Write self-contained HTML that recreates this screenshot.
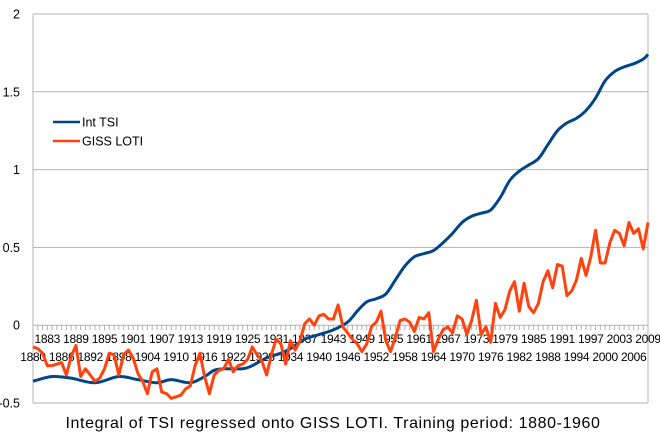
<!DOCTYPE html>
<html><head><meta charset="utf-8"><style>
html,body{margin:0;padding:0;background:#fff;}
svg{display:block;font-family:"Liberation Sans",sans-serif;}
</style></head><body>
<svg id="chart" width="660" height="442" viewBox="0 0 660 442" xmlns="http://www.w3.org/2000/svg">
<g id="grid"></g>
<g id="axes"></g>
<g id="series"></g>
<g>
<line x1="53" y1="122" x2="80" y2="122" stroke="#004586" stroke-width="2.5"/>
<text x="82" y="126.5" font-size="12.5" fill="#000">Int TSI</text>
<line x1="53" y1="141" x2="80" y2="141" stroke="#ff420e" stroke-width="2.5"/>
<text x="82" y="145.5" font-size="12.5" fill="#000">GISS LOTI</text>
</g>
<text x="333" y="428" text-anchor="middle" font-size="16" letter-spacing="0.6" fill="#000">Integral of TSI regressed onto GISS LOTI.  Training period: 1880-1960</text>
</svg>
<script>
const startYear = 1880;
const gissValues = [
-0.14,-0.15,-0.18,-0.26,-0.26,-0.25,-0.24,-0.32,-0.20,-0.13,
-0.33,-0.28,-0.32,-0.36,-0.34,-0.28,-0.18,-0.19,-0.32,-0.19,
-0.16,-0.21,-0.31,-0.36,-0.44,-0.30,-0.28,-0.43,-0.44,-0.47,
-0.46,-0.45,-0.41,-0.39,-0.26,-0.18,-0.33,-0.44,-0.32,-0.29,
-0.28,-0.22,-0.30,-0.26,-0.25,-0.22,-0.14,-0.19,-0.23,-0.32,
-0.19,-0.09,-0.12,-0.25,-0.10,-0.16,-0.10,0.01,0.04,0.00,
0.06,0.07,0.04,0.04,0.13,-0.01,-0.05,-0.09,-0.12,-0.17,
-0.12,-0.01,0.02,0.09,-0.10,-0.17,-0.08,0.03,0.04,0.02,
-0.04,0.05,0.04,0.08,-0.17,-0.09,-0.03,-0.01,-0.05,0.06,
0.04,-0.06,0.03,0.16,-0.06,-0.01,-0.11,0.14,0.05,0.10,
0.22,0.28,0.09,0.27,0.12,0.08,0.14,0.28,0.35,0.24,
0.39,0.38,0.19,0.22,0.29,0.43,0.32,0.44,0.61,0.40,
0.40,0.53,0.61,0.59,0.51,0.66,0.59,0.62,0.49,0.66];
const tsiYears = [1880,1884,1888,1893,1898,1902,1906,1909,1913,1916,1918,1920,1924,1926,1929,1932,1934,1937,1940,1943,1946,1948,1950,1952,1954,1956,1958,1960,1962,1964,1966,1968,1970,1972,1974,1976,1978,1980,1982,1984,1986,1988,1990,1992,1994,1996,1998,2000,2002,2004,2006,2008,2009];
const tsiValues = [-0.36,-0.33,-0.34,-0.37,-0.33,-0.35,-0.37,-0.35,-0.37,-0.33,-0.29,-0.28,-0.28,-0.26,-0.21,-0.18,-0.15,-0.09,-0.06,-0.03,0.02,0.09,0.15,0.17,0.20,0.29,0.38,0.44,0.46,0.48,0.53,0.59,0.66,0.70,0.72,0.74,0.82,0.93,0.99,1.03,1.07,1.16,1.25,1.30,1.33,1.38,1.46,1.57,1.63,1.66,1.68,1.71,1.74];
const yTicks = [-0.5,0,0.5,1,1.5,2];
const yTickLabels = ["-0.5","0","0.5","1","1.5","2"];

const NS="http://www.w3.org/2000/svg";
const x0=33,x1=648,yTop=14,yBot=403,yMin=-0.5,yMax=2;
const nYears=gissValues.length;
const xS=y=>x0+(y-startYear)*(x1-x0)/(nYears-1);
const yS=v=>yBot-(v-yMin)*(yBot-yTop)/(yMax-yMin);
function mk(tag,attrs,parent){const e=document.createElementNS(NS,tag);for(const k in attrs)e.setAttribute(k,attrs[k]);parent.appendChild(e);return e;}
const grid=document.getElementById('grid'),axes=document.getElementById('axes'),series=document.getElementById('series');
yTicks.forEach((t,i)=>{
  const l=mk('line',{x1:x0,x2:x1,y1:yS(t),y2:yS(t),stroke:'#b3b3b3','stroke-width':1},grid);
  
  
  const tx=mk('text',{x:20,y:yS(t)+4.5,'text-anchor':'end','font-size':12.5,fill:'#000'},axes);
  tx.textContent=yTickLabels[i];
  
  
});
const ya=mk('line',{x1:x0,x2:x0,y1:yTop,y2:yBot,stroke:'#b3b3b3','stroke-width':1},axes);


const rb=mk('line',{x1:x1,x2:x1,y1:yTop,y2:yBot,stroke:'#b3b3b3','stroke-width':1},axes);


for(let i=0;i<nYears;i++){
  const yr=startYear+i,x=xS(yr);
  const tk=mk('line',{x1:x,x2:x,y1:yS(0),y2:yS(0)+5,stroke:'#b3b3b3','stroke-width':1},axes);
  
  
  if(i%3===0){
    const row=(i/3)%2===0?361:343;
    const tx=mk('text',{x:x,y:row,'text-anchor':'middle','font-size':12,fill:'#000','letter-spacing':'-0.3'},axes);
    tx.textContent=String(yr);
    
    
  }
}
const pts=tsiYears.map((y,i)=>[xS(y),yS(tsiValues[i])]);
let d='M'+pts[0][0]+','+pts[0][1];
for(let i=0;i<pts.length-1;i++){
  const p0=pts[Math.max(0,i-1)],p1=pts[i],p2=pts[i+1],p3=pts[Math.min(pts.length-1,i+2)];
  const c1=[p1[0]+(p2[0]-p0[0])/6,p1[1]+(p2[1]-p0[1])/6];
  const c2=[p2[0]-(p3[0]-p1[0])/6,p2[1]-(p3[1]-p1[1])/6];
  d+=' C'+c1[0]+','+c1[1]+' '+c2[0]+','+c2[1]+' '+p2[0]+','+p2[1];
}
const tsi=mk('path',{d:d,fill:'none',stroke:'#004586','stroke-width':3,'stroke-linejoin':'round'},series);


const gp=gissValues.map((v,i)=>xS(startYear+i)+','+yS(v)).join(' ');
const giss=mk('polyline',{points:gp,fill:'none',stroke:'#ff420e','stroke-width':3,'stroke-linejoin':'round'},series);


</script>
</body></html>
